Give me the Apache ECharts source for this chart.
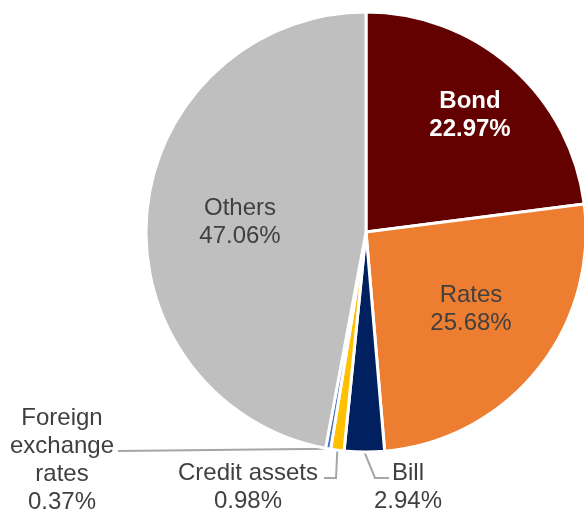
<!DOCTYPE html>
<html><head><meta charset="utf-8">
<script src="https://cdn.jsdelivr.net/npm/echarts@6/dist/echarts.min.js"></script>
<style>html,body{margin:0;padding:0;background:#fff}#c{width:584px;height:512px}</style>
</head><body><div id="c"></div>
<script>
const categories = ['Bond', 'Rates', 'Bill', 'Credit assets', 'Foreign exchange rates', 'Others'];
const labelNames = ['Bond', 'Rates', 'Bill', 'Credit assets', 'Foreign\nexchange\nrates', 'Others'];
const shares = [22.97, 25.68, 2.94, 0.98, 0.37, 47.06];
const colors = ['#630000', '#ED7D31', '#002060', '#FFC000', '#4472C4', '#BFBFBF'];

// label layout (styling): label anchor and leader-line elbows
const labelPos = {0: [470, 115], 1: [471, 309], 2: [408, 487], 3: [248, 487], 4: [62, 460], 5: [240, 222]};
const linePts = {2: [[375, 478], [389, 478]], 3: [[336, 478], [324, 478]], 4: [[118, 451]]};
const outside = [2, 3, 4];

const chart = echarts.init(document.getElementById('c'));
const data = categories.map((c, i) => ({
  name: labelNames[i],
  value: shares[i],
  itemStyle: {color: colors[i]},
  label: {
    color: i === 0 ? '#ffffff' : '#404040',
    fontWeight: i === 0 ? 'bold' : 'normal'
  },
  labelLine: {show: outside.includes(i)}
}));

chart.setOption({
  animation: false,
  series: [{
    type: 'pie',
    center: [366, 232],
    radius: 220,
    startAngle: 90,
    clockwise: true,
    avoidLabelOverlap: false,
    itemStyle: {borderColor: '#ffffff', borderWidth: 3},
    label: {
      show: true,
      position: 'outside',
      fontFamily: 'Liberation Sans, Arial, sans-serif',
      fontSize: 24,
      lineHeight: 28,
      align: 'center',
      formatter: p => p.name + '\n' + p.value.toFixed(2) + '%'
    },
    labelLine: {lineStyle: {color: '#A6A6A6', width: 2}},
    labelLayout: function (params) {
      const i = params.dataIndex;
      const pos = labelPos[i];
      const res = {x: pos[0], y: pos[1], align: 'center', verticalAlign: 'middle'};
      if (linePts[i] && params.labelLinePoints) {
        res.labelLinePoints = [params.labelLinePoints[0]].concat(linePts[i]);
      }
      return res;
    },
    data: data
  }]
});
</script></body></html>
